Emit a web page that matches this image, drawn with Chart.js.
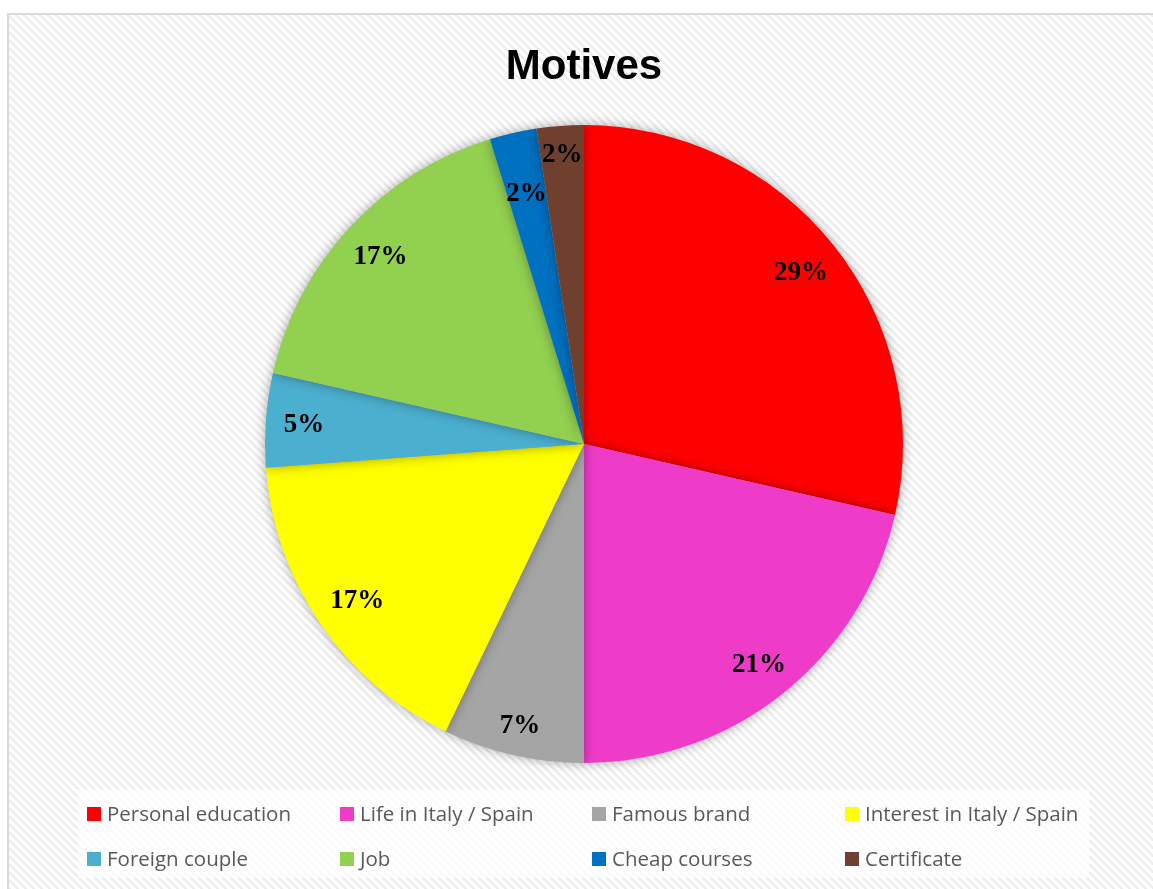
<!DOCTYPE html>
<html>
<head>
<meta charset="utf-8">
<title>Motives</title>
<script src="https://cdn.jsdelivr.net/npm/chart.js@4.4.1/dist/chart.umd.min.js"></script>
<style>
  html, body { margin: 0; padding: 0; background: #fff; }
  #wrap { width: 1153px; height: 889px; position: relative; }
</style>
</head>
<body>
<div id="wrap"><canvas id="graficoMotivos" width="1153" height="889"></canvas></div>
<script>
// respostas por motivo
const motivos = [
    "Personal education",
    "Life in Italy / Spain",
    "Famous brand",
    "Interest in Italy / Spain",
    "Foreign couple",
    "Job",
    "Cheap courses",
    "Certificate"
];
const respostas = [12, 9, 3, 7, 2, 7, 1, 1];

const cores = [
    "#FF0000",
    "#EE3CC8",
    "#A5A5A5",
    "#FFFF00",
    "#4BAFCF",
    "#92D050",
    "#0070C0",
    "#70402F"
];

// distancia do rotulo ao centro (fração do raio)
const raioRotulo = [0.87, 0.88, 0.9, 0.86, 0.88, 0.87, 0.81, 0.915];

const total = respostas.reduce((a, b) => a + b, 0);

// fundo listrado + moldura
const fundo = {
    id: 'fundo',
    beforeDraw: function(chart) {
        const ctx = chart.ctx;
        ctx.save();
        ctx.fillStyle = '#ffffff';
        ctx.fillRect(0, 0, chart.width, chart.height);

        const p = document.createElement('canvas');
        p.width = 8; p.height = 8;
        const pc = p.getContext('2d');
        pc.fillStyle = '#ffffff';
        pc.fillRect(0, 0, 8, 8);
        pc.fillStyle = '#ececec';
        for (let i = 0; i < 8; i++) {
            pc.fillRect(i, i, 3, 1);
            pc.fillRect(i - 8, i, 3, 1);
        }
        ctx.fillStyle = ctx.createPattern(p, 'repeat');
        ctx.fillRect(8, 14, chart.width - 8, chart.height - 14);

        ctx.strokeStyle = '#d9d9d9';
        ctx.lineWidth = 2;
        ctx.beginPath();
        ctx.moveTo(8, chart.height);
        ctx.lineTo(8, 14);
        ctx.lineTo(chart.width, 14);
        ctx.stroke();

        // titulo
        ctx.fillStyle = '#000000';
        ctx.font = 'bold 42px "Liberation Sans", Arial, sans-serif';
        ctx.textAlign = 'center';
        ctx.textBaseline = 'alphabetic';
        ctx.fillText('Motives', 584, 79);
        ctx.restore();
    }
};

// sombra suave em volta da pizza
const sombra = {
    id: 'sombra',
    beforeDatasetsDraw: function(chart) {
        const ctx = chart.ctx;
        ctx.save();
        ctx.shadowColor = 'rgba(0,0,0,0.35)';
        ctx.shadowBlur = 12;
        ctx.shadowOffsetX = 0;
        ctx.shadowOffsetY = 0;
    },
    afterDatasetsDraw: function(chart) {
        chart.ctx.restore();
    }
};

// rotulos com porcentagem
const rotulos = {
    id: 'rotulos',
    afterDatasetsDraw: function(chart) {
        const ctx = chart.ctx;
        const meta = chart.getDatasetMeta(0);
        ctx.save();
        ctx.font = 'bold 27px "Liberation Serif", "Times New Roman", serif';
        ctx.fillStyle = '#000000';
        ctx.textAlign = 'center';
        ctx.textBaseline = 'middle';
        meta.data.forEach(function(arc, i) {
            const meio = (arc.startAngle + arc.endAngle) / 2;
            const r = arc.outerRadius * raioRotulo[i];
            const x = arc.x + Math.cos(meio) * r;
            const y = arc.y + Math.sin(meio) * r + 2;
            const texto = Math.round(respostas[i] / total * 100) + '%';
            ctx.fillText(texto, x, y);
        });
        ctx.restore();
    }
};

// legenda em 4 colunas
const legenda = {
    id: 'legenda',
    afterDraw: function(chart) {
        const ctx = chart.ctx;
        ctx.save();
        ctx.fillStyle = 'rgba(255,255,255,0.75)';
        ctx.fillRect(78, 790, 1011, 88);
        ctx.font = '20.5px "Open Sans", sans-serif';
        ctx.textBaseline = 'middle';
        ctx.textAlign = 'left';
        const colunas = [87, 340, 592, 845];
        const linhas = [814, 859];
        chart.data.labels.forEach(function(label, i) {
            const x = colunas[i % 4];
            const y = linhas[Math.floor(i / 4)];
            ctx.fillStyle = chart.data.datasets[0].backgroundColor[i];
            ctx.fillRect(x, y - 7, 14, 14);
            ctx.fillStyle = '#595959';
            ctx.fillText(label, x + 20, y + 1);
        });
        ctx.restore();
    }
};

const ctx = document.getElementById('graficoMotivos').getContext('2d');
const grafico = new Chart(ctx, {
    type: 'pie',
    data: {
        labels: motivos,
        datasets: [{
            data: respostas,
            backgroundColor: cores,
            borderWidth: 0,
            hoverOffset: 0
        }]
    },
    options: {
        responsive: false,
        animation: false,
        layout: { padding: { top: 125, bottom: 126, left: 15, right: 0 } },
        plugins: {
            legend: { display: false },
            tooltip: { enabled: false },
            title: { display: false }
        }
    },
    plugins: [fundo, sombra, rotulos, legenda]
});
</script>
</body>
</html>
